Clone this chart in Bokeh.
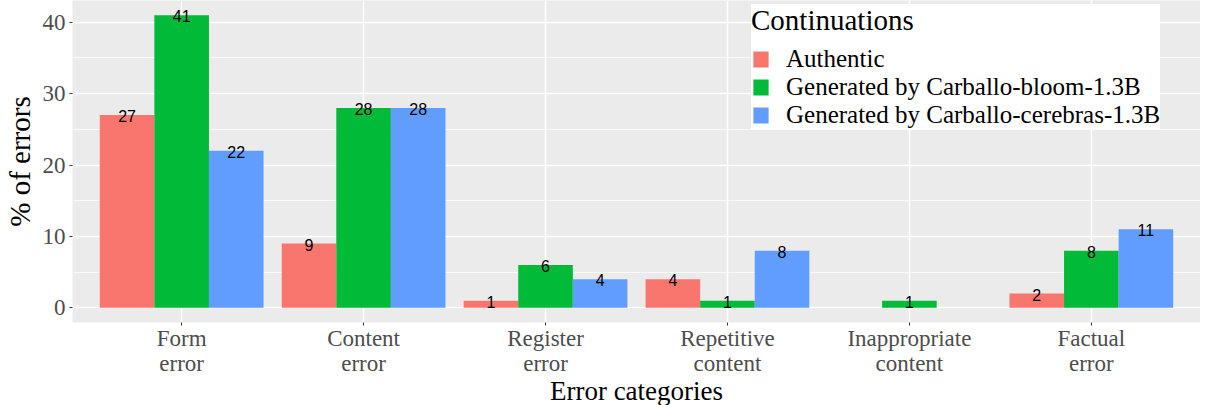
from bokeh.plotting import figure
from bokeh.models import ColumnDataSource, FactorRange, FixedTicker, Legend, LegendItem, Range1d
from bokeh.transform import dodge
from bokeh.core.properties import value
from bokeh.embed import file_html
from bokeh.resources import INLINE

categories = ["Form\nerror", "Content\nerror", "Register\nerror", "Repetitive\ncontent",
              "Inappropriate\ncontent", "Factual\nerror"]
series = ["Authentic", "Generated by Carballo-bloom-1.3B", "Generated by Carballo-cerebras-1.3B"]
authentic = [27, 9, 1, 4, 0, 2]
bloom = [41, 28, 6, 1, 1, 8]
cerebras = [22, 28, 4, 8, 0, 11]
y_ticks = [0, 10, 20, 30, 40]
y_minor = [5, 15, 25, 35]

colors = ["#F8766D", "#00BA38", "#619CFF"]
offsets = [-0.3, 0.0, 0.3]
values = [authentic, bloom, cerebras]

SERIF = "Liberation Serif"

p = figure(x_range=FactorRange(*categories, range_padding=0.1, range_padding_units="absolute"),
           y_range=Range1d(-2.05, 43.05),
           width=1200, height=408, output_backend="svg", toolbar_location=None,
           min_border_left=65, min_border_right=0, min_border_top=0, min_border_bottom=10,
           background_fill_color="#EBEBEB", border_fill_color="white", outline_line_color=None)

renderers = []
for s, vals, col, off in zip(series, values, colors, offsets):
    src = ColumnDataSource(dict(cat=categories, val=vals))
    r = p.vbar(x=dodge("cat", off, range=p.x_range), top="val", bottom=0, width=0.3,
               source=src, fill_color=col, line_color=None)
    renderers.append(r)
    lab_cats = [c for c, v in zip(categories, vals) if v != 0]
    lab_vals = [v for v in vals if v != 0]
    lsrc = ColumnDataSource(dict(cat=lab_cats, val=lab_vals, txt=[str(v) for v in lab_vals]))
    p.text(x=dodge("cat", off, range=p.x_range), y="val", text="txt", source=lsrc,
           text_font=value("Liberation Sans"), text_font_size="16px", text_color="black",
           text_align="center", text_baseline="alphabetic", y_offset=1)

# grids
p.xgrid.grid_line_color = "white"
p.xgrid.grid_line_width = 1.5
p.ygrid.grid_line_color = "white"
p.ygrid.grid_line_width = 1.5
p.ygrid.minor_grid_line_color = "white"
p.ygrid.minor_grid_line_width = 0.7

# axes
p.yaxis.ticker = FixedTicker(ticks=y_ticks, minor_ticks=y_minor)
for ax in (p.xaxis[0], p.yaxis[0]):
    ax.axis_line_color = None
    ax.major_tick_line_color = "#333333"
    ax.major_tick_out = 3
    ax.major_tick_in = 0
    ax.minor_tick_line_color = None
    ax.major_label_text_color = "#4D4D4D"
    ax.major_label_text_font = SERIF
    ax.major_label_text_font_size = "23px"
    ax.axis_label_text_font = SERIF
    ax.axis_label_text_font_style = "normal"
    ax.axis_label_text_color = "black"

p.yaxis.major_label_standoff = 3
p.yaxis.axis_label = "% of errors"
p.yaxis.axis_label_text_font_size = "29px"
p.yaxis.axis_label_standoff = 4

p.xaxis.major_label_standoff = 0
p.xaxis.major_label_text_line_height = 1.0
p.xaxis.axis_label = "Error categories"
p.xaxis.axis_label_text_font_size = "27px"
p.xaxis.axis_label_standoff = -3

legend = Legend(items=[LegendItem(label=s, renderers=[r]) for s, r in zip(series, renderers)],
                location=(679, 193), title="Continuations",
                title_text_font=SERIF, title_text_font_size="29px", title_text_font_style="normal",
                title_text_color="black", title_standoff=8,
                label_text_font=SERIF, label_text_font_size="25px", label_text_color="black",
                label_text_line_height=0.85,
                glyph_width=19, glyph_height=20, label_standoff=16, spacing=0,
                padding=8, margin=0, border_line_color=None,
                background_fill_color="white", background_fill_alpha=1.0)
p.add_layout(legend)

open("out.html", "w").write(file_html(p, INLINE))
